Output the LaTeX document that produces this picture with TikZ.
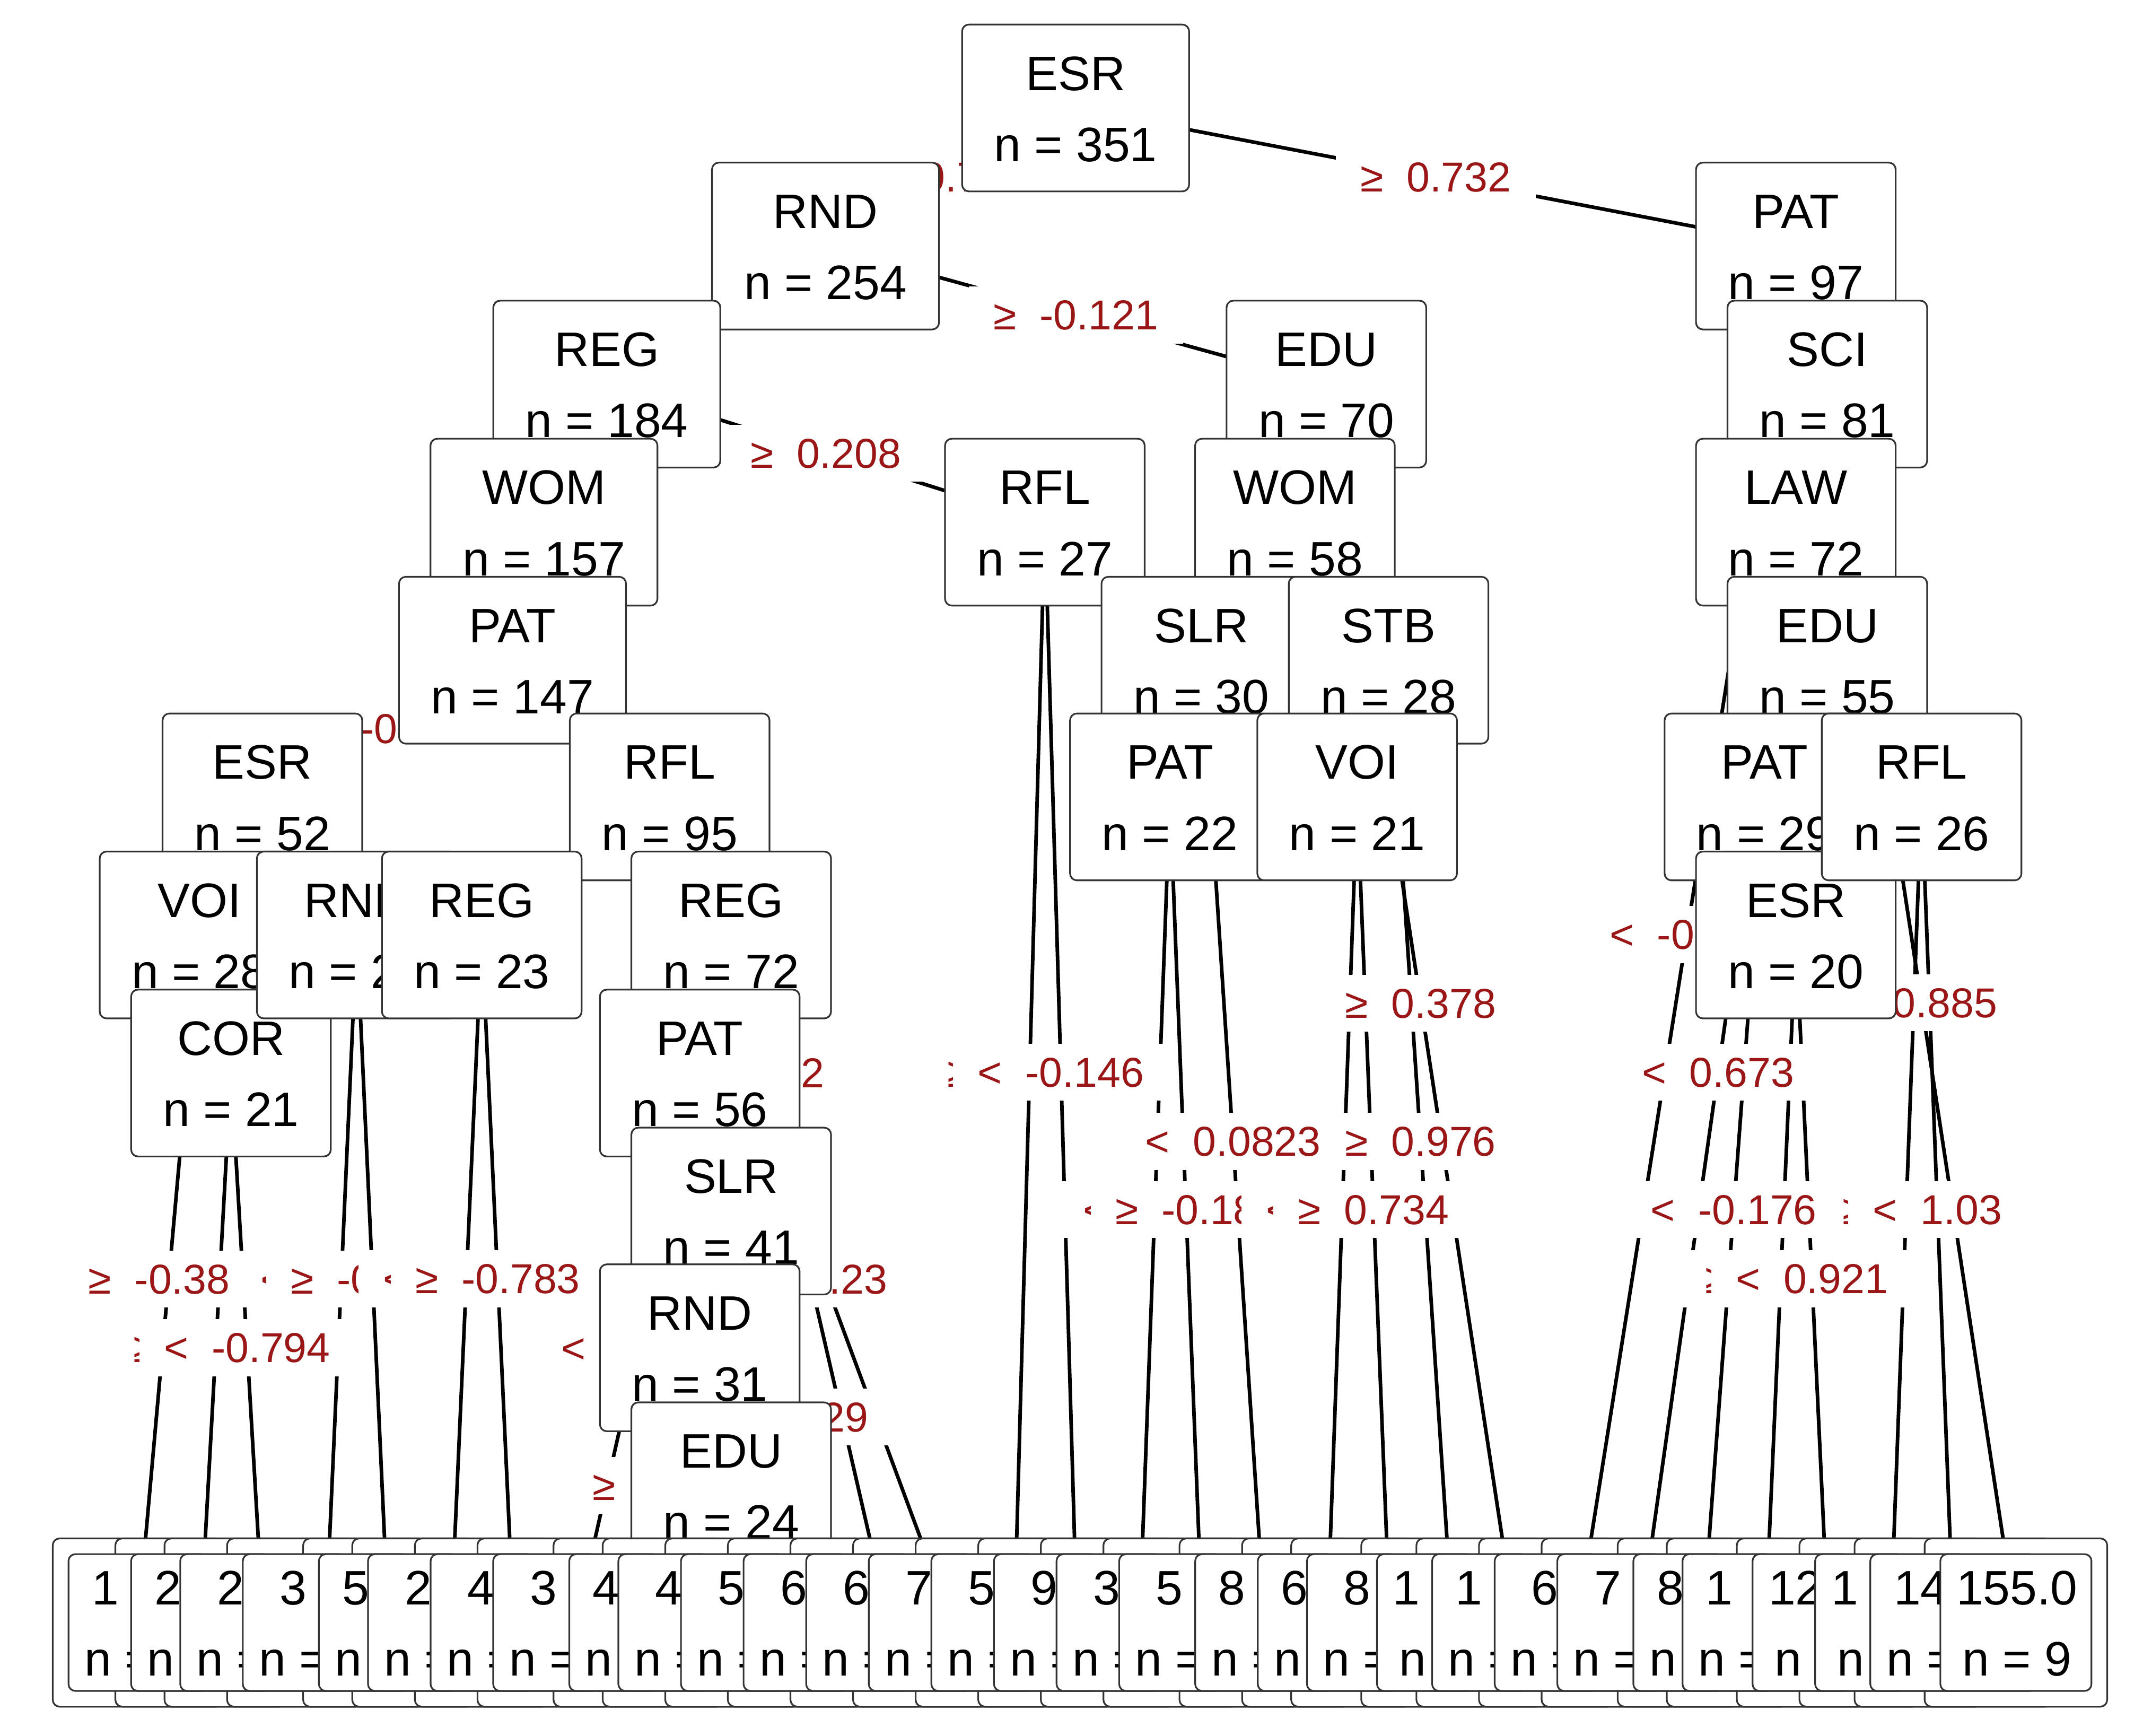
\documentclass[tikz,border=0pt]{standalone}
\usepackage{fontspec}
\setmainfont{Liberation Sans}
\definecolor{splitred}{RGB}{155,22,22}
\pgfdeclarelayer{back}
\pgfsetlayers{back,main}
\tikzset{
  splitbox/.style={draw=black!80, line width=0.35pt, fill=white, rounded corners=0.05cm, inner sep=0pt, minimum height=1.22cm},
  leafback/.style={draw=black!80, line width=0.35pt, fill=white, rounded corners=0.05cm, inner sep=0pt, minimum height=1.23cm},
  leaffront/.style={leafback, minimum height=1cm},
  boxtext/.style={font=\fontsize{10.07pt}{12pt}\selectfont, inner sep=0pt, anchor=base},
  branch/.style={line width=0.75pt},
  splitlbl/.style={font=\fontsize{8.7pt}{10pt}\selectfont, text=splitred, fill=white, inner xsep=0.18cm, inner ysep=0.1cm, text height=0.216cm, text depth=0pt}
}
\def\leaflist{1/1.017/1/4/1/{n =}, 2/1.017/2/4/1/{n =}, 3/1.214/2/4/2/{n =}, 4/1.214/3/4/2/{n =},
  5/1.017/5/4/1/{n =}, 6/1.214/2/4/2/{n =}, 7/1.214/4/4/2/{n =}, 8/1.214/3/4/2/{n =},
  9/1.017/4/4/1/{n =}, 10/1.214/4/4/2/{n =}, 11/1.214/5/4/2/{n =}, 12/1.214/6/4/2/{n =},
  13/1.214/6/4/2/{n =}, 14/1.214/7/4/2/{n =}, 15/1.214/5/4/2/{n =}, 16/1.214/9/4/2/{n =},
  17/1.214/3/4/2/{n =}, 18/1.214/5/4/2/{n =}, 19/1.017/8/4/1/{n =}, 20/1.017/6/4/1/{n =},
  21/1.214/8/4/2/{n =}, 22/1.105/1/5/1/{n =}, 23/1.214/1/5/2/{n =}, 24/1.214/6/4/2/{n =},
  25/1.214/7/4/2/{n =}, 26/1.017/8/4/1/{n =}, 27/1.214/1/5/2/{n =}, 28/1.105/12/5/1/{n =},
  29/1.105/1/5/1/{n =}, 30/1.214/14/5/2/{n =}, 31/1.105/155.0/5/1/{n = 9}}
\begin{document}
\begin{tikzpicture}[x=0.01cm, y=-0.01cm]
  \useasboundingbox (0,0) rectangle (1568,1270);
  \foreach \nm/\x/\y/\var/\cnt/\w in {
    esr351/787/79/ESR/351/1.66, rnd254/604/180/RND/254/1.66, reg184/444/281/REG/184/1.66,
    wom157/398/382/WOM/157/1.66, pat147/375/483/PAT/147/1.66, esr52/192/583/ESR/52/1.46,
    voi28/146/684/VOI/28/1.46, cor21/169/785/COR/21/1.46, rnd24/261/684/RND/24/1.46,
    rfl95/490/583/RFL/95/1.46, reg23/352.5/684/REG/23/1.46, reg72/535/684/REG/72/1.46,
    pat56/512/785/PAT/56/1.46, slr41/535/886/SLR/41/1.46, rnd31/512/986/RND/31/1.46,
    edu24/535/1087/EDU/24/1.46, rfl27/764.5/382/RFL/27/1.46, edu70/970.5/281/EDU/70/1.46,
    wom58/947.5/382/WOM/58/1.46, slr30/879/483/SLR/30/1.46, pat22/856/583/PAT/22/1.46,
    stb28/1016/483/STB/28/1.46, voi21/993/583/VOI/21/1.46, pat97/1314/180/PAT/97/1.46,
    sci81/1337/281/SCI/81/1.46, law72/1314/382/LAW/72/1.46, edu55/1337/483/EDU/55/1.46,
    pat29/1291/583/PAT/29/1.46, esr20/1314/684/ESR/20/1.46, rfl26/1406/583/RFL/26/1.46}{
    \node[splitbox, minimum width=\w cm] (\nm) at (\x,\y) {};
    \node[boxtext] (\nm-v) at ([yshift=0.13cm]\nm.center) {\var};
    \node[boxtext] (\nm-n) at ([yshift=-0.39cm]\nm.center) {n = \cnt};
  }
  \foreach \i/\w/\mtxt/\mc/\nc/\ntxt in \leaflist{
    \pgfmathsetmacro\lx{101+45.8*(\i-1)}
    \node[leafback, minimum width=\w cm+0.23cm] (b\i) at (\lx,1187) {};
  }
  \foreach \i/\w/\mtxt/\mc/\nc/\ntxt in \leaflist{
    \pgfmathsetmacro\lx{101+45.8*(\i-1)}
    \pgfmathsetmacro\mx{\lx-(\mc==4?34.5:44.25)}
    \pgfmathsetmacro\nx{\lx-(\nc==1?39.85:49.7)}
    \node[leaffront, minimum width=\w cm] (l\i) at (\lx,1187) {};
    \node[boxtext, anchor=base west] (l\i-m) at (\mx,1174) {\mtxt};
    \node[boxtext, anchor=base west] (l\i-n) at (\nx,1226) {\ntxt};
  }
  \begin{pgfonlayer}{back}
    \foreach \a/\b in {esr351/rnd254, esr351/pat97, rnd254/reg184, rnd254/edu70,
      reg184/wom157, reg184/rfl27, wom157/pat147, wom157/l14, pat147/esr52, pat147/rfl95,
      esr52/voi28, esr52/rnd24, voi28/l1, voi28/cor21, cor21/l2, cor21/l3, rnd24/l4, rnd24/l5,
      rfl95/reg23, rfl95/reg72, reg23/l6, reg23/l7, reg72/pat56, reg72/l13, pat56/l8, pat56/slr41,
      slr41/rnd31, slr41/l12, rnd31/l9, rnd31/edu24, edu24/l10, edu24/l11, rfl27/l15, rfl27/l16,
      edu70/wom58, edu70/l23, wom58/slr30, wom58/stb28, slr30/pat22, slr30/l19, pat22/l17, pat22/l18,
      stb28/voi21, stb28/l22, voi21/l20, voi21/l21, pat97/l24, pat97/sci81, sci81/law72, sci81/l31,
      law72/l25, law72/edu55, edu55/pat29, edu55/rfl26, pat29/l26, pat29/esr20, esr20/l27, esr20/l28,
      rfl26/l29, rfl26/l30}
      \draw[branch] (\a.center) -- (\b.center);
    \path (esr351.center) -- (rnd254.center) node[midway, splitlbl] (s-esr351-l) {<\ \ 0.732};
    \path (esr351.center) -- (pat97.center) node[midway, splitlbl] (s-esr351-r) {≥\ \ 0.732};
    \path (rnd254.center) -- (edu70.center) node[midway, splitlbl] (s-rnd254-r) {≥\ \ -0.121};
    \path (reg184.center) -- (rfl27.center) node[midway, splitlbl] (s-reg184-r) {≥\ \ 0.208};
    \node[splitlbl, anchor=base east] (s-wom157-r) at (622,795.5) {2};
    \node[splitlbl, anchor=base west] (s-pat147-l) at (245,544) {-0};
    \node[splitlbl, anchor=base west] (s-voi28-l) at (46,946.5) {≥\ \ -0.38};
    \path (cor21.center) -- (l2.center) node[midway, splitlbl] (s-cor21-l) {≥\ \ -0.794};
    \path (cor21.center) -- (l3.center) node[midway, splitlbl] (s-cor21-r) {<\ \ -0.794};
    \node[splitlbl, anchor=base west] (s-rnd24-l) at (172,946.5) {<};
    \node[splitlbl, anchor=base west] (s-rnd24-r) at (194,946.5) {≥\ \ -0};
    \path (reg23.center) -- (l6.center) node[midway, splitlbl] (s-reg23-l) {<\ \ -0.783};
    \path (reg23.center) -- (l7.center) node[midway, splitlbl] (s-reg23-r) {≥\ \ -0.783};
    \node[splitlbl, anchor=base east] (s-reg72-r) at (668,946.5) {.23};
    \node[splitlbl, anchor=base west] (s-pat56-l) at (392,997) {<};
    \node[splitlbl, anchor=base east] (s-slr41-r) at (654,1047.5) {29};
    \node[splitlbl, anchor=base west] (s-rnd31-l) at (415,1097.5) {≥};
    \path (rfl27.center) -- (l15.center) node[midway, splitlbl] (s-rfl27-l) {≥\ \ -0.146};
    \path (rfl27.center) -- (l16.center) node[midway, splitlbl] (s-rfl27-r) {<\ \ -0.146};
    \path (edu70.center) -- (l23.center) node[midway, splitlbl] (s-edu70-r) {≥\ \ 0.378};
    \path (slr30.center) -- (l19.center) node[midway, splitlbl] (s-slr30-r) {<\ \ 0.0823};
    \path (pat22.center) -- (l17.center) node[midway, splitlbl] (s-pat22-l) {<\ \ -0.18};
    \path (pat22.center) -- (l18.center) node[midway, splitlbl] (s-pat22-r) {≥\ \ -0.18};
    \path (stb28.center) -- (l22.center) node[midway, splitlbl] (s-stb28-r) {≥\ \ 0.976};
    \path (voi21.center) -- (l20.center) node[midway, splitlbl] (s-voi21-l) {<\ \ 0.734};
    \path (voi21.center) -- (l21.center) node[midway, splitlbl] (s-voi21-r) {≥\ \ 0.734};
    \node[splitlbl, anchor=base west] (s-pat97-l) at (1159,694.5) {<\ \ -0};
    \node[splitlbl, anchor=base east] (s-sci81-r) at (1480,744.5) {0.885};
    \path (law72.center) -- (l25.center) node[midway, splitlbl] (s-law72-l) {<\ \ 0.673};
    \path (pat29.center) -- (l26.center) node[midway, splitlbl] (s-pat29-l) {<\ \ -0.176};
    \path (esr20.center) -- (l27.center) node[midway, splitlbl] (s-esr20-l) {≥\ \ 0.921};
    \path (esr20.center) -- (l28.center) node[midway, splitlbl] (s-esr20-r) {<\ \ 0.921};
    \path (rfl26.center) -- (l29.center) node[midway, splitlbl] (s-rfl26-l) {≥\ \ 1.03};
    \path (rfl26.center) -- (l30.center) node[midway, splitlbl] (s-rfl26-r) {<\ \ 1.03};
  \end{pgfonlayer}
\end{tikzpicture}
\end{document}
